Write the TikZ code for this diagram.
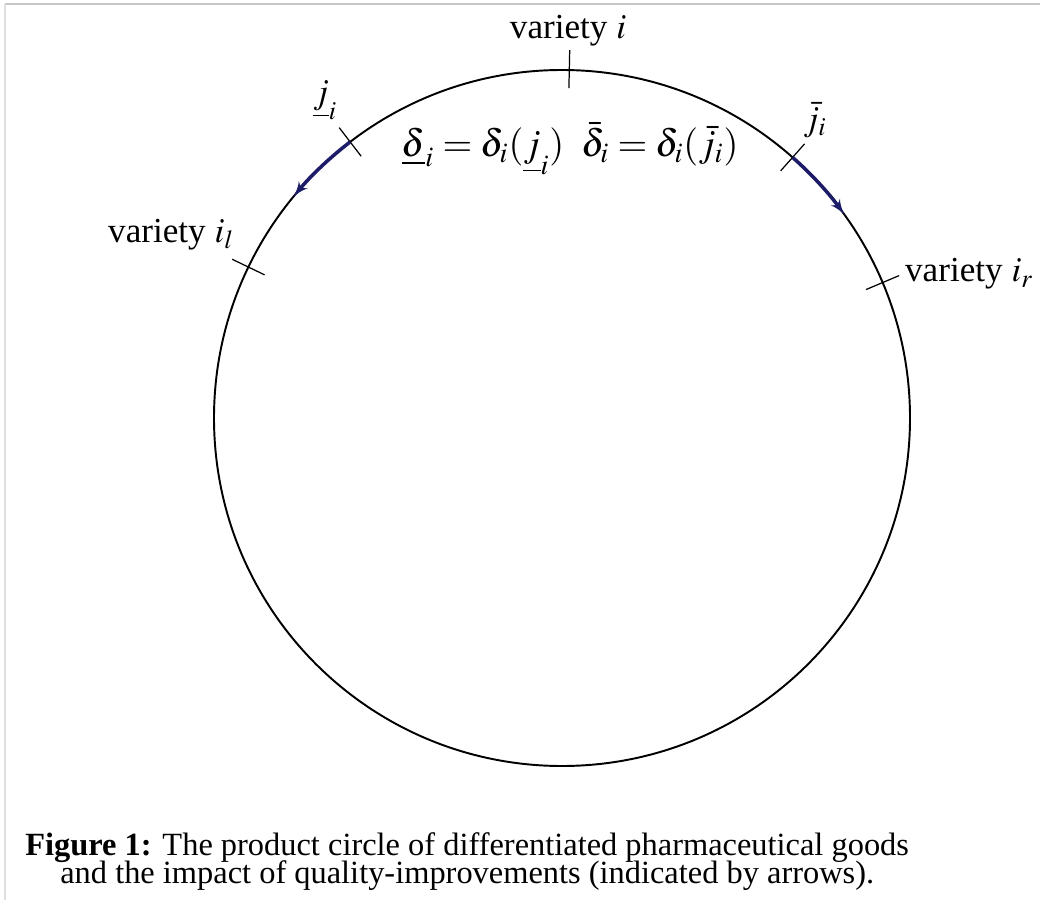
\documentclass[tikz,border=0pt]{standalone}
\usepackage{mathptmx}
\usepackage{fontspec}
\setmainfont{Liberation Serif}
\usetikzlibrary{arrows,positioning,calc}

\begin{document}
\begin{tikzpicture}[x=0.02cm, y=0.02cm, >=latex',
    tick/.style={draw, line width=0.7pt},
    move/.style={->, draw=arrowblue, line width=2pt},
    lbl/.style={font=\fontsize{20}{22}\selectfont, inner sep=0pt},
    captext/.style={font=\fontsize{18.45}{20}\selectfont, inner sep=0pt, anchor=base west}]
    \definecolor{arrowblue}{RGB}{28,28,104}
    \useasboundingbox (0,0) rectangle (1040,900);
    % frame of the page
    \draw[gray!45, line width=0.8pt] (5,896) -- (1040,896);
    \draw[gray!25, line width=0.8pt] (5,896) -- (5,0);
    % product circle
    \coordinate (c) at (562,482);
    \draw[line width=1.1pt] (c) circle[radius=348];
    \begin{scope}[shift={(c)}]
        % varieties on the circle
        \coordinate (vi) at (88.8:348);
        \coordinate (jl) at (127.5:348);
        \coordinate (vil) at (154.3:348);
        \coordinate (jr) at (48.5:348);
        \coordinate (vir) at (22.9:348);
        \draw[tick] (88.8:330) -- (88.8:368);
        \draw[tick] (127.5:330) -- (127.5:366);
        \draw[tick] (154.3:330) -- (154.3:366);
        \draw[tick] (48.5:330) -- (48.5:366);
        \draw[tick] (22.9:330) -- (22.9:366);
        % quality improvements
        \draw[move] (jl) arc[start angle=127.5, end angle=140.5, radius=348];
        \draw[move] (jr) arc[start angle=48.5, end angle=35.8, radius=348];
    \end{scope}
    % labels
    \node[lbl, anchor=base] (lvi) at (568,861) {variety $i$};
    \node[lbl] (ljl) at (325,800) {$\underline{j}_i$};
    \node[lbl] (ljr) at (815,780) {$\bar{j}_i$};
    \node[lbl, font=\fontsize{21.8}{24}\selectfont, anchor=base] (delta) at (570,743) {$\underline{\delta}_i = \delta_i(\underline{j}_i)\;\;\bar{\delta}_i = \delta_i(\bar{j}_i)$};
    \node[lbl, anchor=base] (lvil) at (171,657) {variety $i_l$};
    \node[lbl, anchor=base] (lvir) at (969,618) {variety $i_r$};
    % caption
    \node[captext] (cap1) at (25,45) {\textbf{Figure 1:} The product circle of differentiated pharmaceutical goods};
    \node[captext] (cap2) at (60,17) {and the impact of quality-improvements (indicated by arrows).};
\end{tikzpicture}
\end{document}
